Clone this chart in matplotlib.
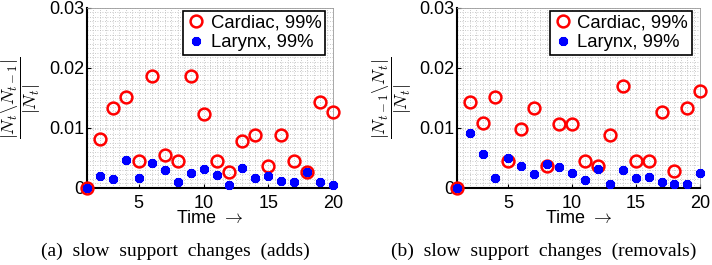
import matplotlib
matplotlib.use("Agg")
import matplotlib.pyplot as plt
import numpy as np

t = list(range(1, 21))
cardiac_adds = [0.0, 0.0081, 0.0133, 0.0152, 0.0044, 0.0186, 0.0054, 0.0044, 0.0186, 0.0124,
                0.0044, 0.0027, 0.0079, 0.0089, 0.0036, 0.0089, 0.0044, 0.0027, 0.0143, 0.0126]
larynx_adds = [0.0, 0.0019, 0.0014, 0.0047, 0.0017, 0.0041, 0.0029, 0.0009, 0.0024, 0.0032,
               0.0022, 0.0004, 0.0033, 0.0017, 0.0019, 0.0012, 0.0009, 0.0027, 0.0009, 0.0004]
cardiac_rem = [0.0, 0.0144, 0.0109, 0.0152, 0.0044, 0.0099, 0.0134, 0.0036, 0.0107, 0.0107,
               0.0045, 0.0037, 0.0089, 0.0170, 0.0045, 0.0045, 0.0126, 0.0028, 0.0134, 0.0162]
larynx_rem = [0.0, 0.0092, 0.0056, 0.0017, 0.0049, 0.0037, 0.0023, 0.0040, 0.0035, 0.0025,
              0.0013, 0.0032, 0.0006, 0.0030, 0.0017, 0.0018, 0.0010, 0.0007, 0.0007, 0.0025]
xticks = [5, 10, 15, 20]
yticks = [0, 0.01, 0.02, 0.03]
ytick_labels = ["0", "0.01", "0.02", "0.03"]
labels = ["Cardiac, 99%", "Larynx, 99%"]
ylabels = [r"$\dfrac{|N_t\backslash N_{t-1}|}{|N_t|}$", r"$\dfrac{|N_{t-1}\backslash N_t|}{|N_t|}$"]
captions = ["(a)  slow  support  changes  (adds)", "(b)  slow  support  changes  (removals)"]

plt.rcParams['font.family'] = ['Liberation Sans', 'DejaVu Sans']
plt.rcParams['mathtext.fontset'] = 'cm'

fig = plt.figure(figsize=(7.12, 2.65), dpi=100)
positions = [[0.122, 0.291, 0.346, 0.679], [0.642, 0.291, 0.341, 0.679]]
data = [(cardiac_adds, larynx_adds), (cardiac_rem, larynx_rem)]
caption_x = [0.247, 0.763]

for i in range(2):
    ax = fig.add_axes(positions[i])
    c, l = data[i]
    ax.plot(t, c, linestyle='none', marker='o', markersize=8.5, markerfacecolor='none',
            markeredgecolor='red', markeredgewidth=1.8, label=labels[0], clip_on=False, zorder=3)
    ax.plot(t, l, linestyle='none', marker=(8, 2, 0), markersize=6.5, color='blue',
            markeredgewidth=2.2, label=labels[1], clip_on=False, zorder=4)
    ax.set_xlim(1, 20)
    ax.set_ylim(0, 0.03)
    ax.set_xticks(xticks)
    ax.set_yticks(yticks)
    ax.set_yticklabels(ytick_labels)
    ax.set_xticks(np.arange(1, 20.01, 0.5), minor=True)
    ax.set_yticks(np.arange(0, 0.0301, 0.00075), minor=True)
    ax.tick_params(which='minor', length=0)
    ax.tick_params(which='major', direction='in', length=3, labelsize=13)
    ax.tick_params(axis='x', which='major', pad=5)
    ax.tick_params(axis='y', which='major', pad=2)
    ax.grid(which='both', color='#b8b8b8', linestyle=(0, (1, 2)), linewidth=0.6)
    ax.set_axisbelow(True)
    for s in ['left', 'bottom']:
        ax.spines[s].set_linewidth(1.5)
    for s in ['top', 'right']:
        ax.spines[s].set_color('#999999')
        ax.spines[s].set_linewidth(0.6)
    ax.set_xlabel("Time $\\rightarrow$", fontsize=13, labelpad=-1)
    ax.set_ylabel(ylabels[i], fontsize=13, labelpad=4)
    leg = ax.legend(loc='upper right', bbox_to_anchor=(0.967, 0.983), borderaxespad=0,
                    fontsize=13.3, frameon=True, fancybox=False,
                    edgecolor='black', framealpha=1, handletextpad=0.3, handlelength=1.0,
                    borderpad=0.2, labelspacing=0.15)
    leg.get_frame().set_linewidth(1.2)
    fig.text(caption_x[i], 0.053, captions[i], ha='center', va='center',
             family=['Liberation Serif', 'DejaVu Serif'], fontsize=14)

fig.savefig("out.png", dpi=100)
